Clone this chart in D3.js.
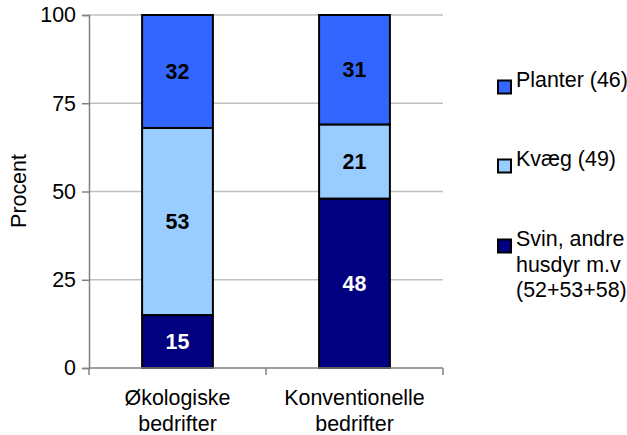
<!DOCTYPE html>
<html><head><meta charset="utf-8">
<script src="https://cdn.jsdelivr.net/npm/d3@7"></script>
<style>body{margin:0;background:#fff;}svg{display:block;font-family:"Liberation Sans",Arial,sans-serif;}</style>
</head><body>
<svg id="c" width="627" height="435"></svg>
<script>
const categories = [["Økologiske","bedrifter"],["Konventionelle","bedrifter"]];
const catKeys = ["oko","konv"];
const svin = [15, 48];
const kvaeg = [53, 21];
const planter = [32, 31];
const seriesNames = [["Svin, andre","husdyr m.v","(52+53+58)"],["Kvæg (49)"],["Planter (46)"]];
const seriesColors = ["#000080","#99CCFF","#3366FF"];
const labelColors = ["#ffffff","#000000","#000000"];
const yTicks = [0,25,50,75,100];

const svg = d3.select("#c");
// calibrate font size so that "Økologiske" is ~106px wide, as in the reference
const probe = svg.append("text").attr("font-size",20).text("Økologiske");
const pw = probe.node().getComputedTextLength();
probe.remove();
let FS = 20 * 106 / (pw || 106);
FS = Math.max(18, Math.min(24, FS));

const L=89,R=443,T=15,B=368;
const x = d3.scaleBand().domain(catKeys).range([L,R]).padding(0);
const y = d3.scaleLinear().domain([0,100]).range([B,T]);

// gridlines
svg.append("g").selectAll("line").data(yTicks.filter(d=>d>0)).join("line")
  .attr("x1",L).attr("x2",R).attr("y1",d=>y(d)).attr("y2",d=>y(d))
  .attr("stroke","#c0c0c0").attr("stroke-width",1.5);

const rows = catKeys.map((k,i)=>({key:k, s0:svin[i], s1:kvaeg[i], s2:planter[i]}));
const stack = d3.stack().keys(["s0","s1","s2"])(rows);
const bw = x.bandwidth()*0.4;
stack.forEach((layer,li)=>{
  const g = svg.append("g");
  g.selectAll("rect").data(layer).join("rect")
    .attr("x",d=>x(d.data.key)+x.bandwidth()/2-bw/2)
    .attr("width",bw)
    .attr("y",d=>y(d[1]))
    .attr("height",d=>y(d[0])-y(d[1]))
    .attr("fill",seriesColors[li]).attr("stroke","#000").attr("stroke-width",2);
  g.selectAll("text").data(layer).join("text")
    .attr("x",d=>x(d.data.key)+x.bandwidth()/2)
    .attr("y",d=>(y(d[0])+y(d[1]))/2)
    .attr("dy","0.36em").attr("text-anchor","middle")
    .attr("font-weight","bold").attr("font-size",FS)
    .attr("fill",labelColors[li])
    .text(d=>d[1]-d[0]);
});

// y axis
const ya = svg.append("g").attr("transform",`translate(${L},0)`)
  .call(d3.axisLeft(y).tickValues(yTicks).tickSize(7).tickPadding(6));
ya.select(".domain").attr("stroke","#808080").attr("stroke-width",1.5);
ya.selectAll(".tick line").attr("stroke","#808080").attr("stroke-width",1.5);
ya.selectAll(".tick text").attr("font-size",FS).attr("fill","#000").attr("font-family","'Liberation Sans', Arial, sans-serif");

// x axis
const xa = svg.append("g").attr("transform",`translate(0,${B})`)
  .call(d3.axisBottom(x).tickSize(0).tickFormat(""));
xa.select(".domain").attr("stroke","#808080").attr("stroke-width",1.5).attr("d",`M${L},0H${R}`);
svg.append("g").selectAll("line").data([L, x(catKeys[1]), R]).join("line")
  .attr("x1",d=>d).attr("x2",d=>d).attr("y1",B).attr("y2",B+7)
  .attr("stroke","#808080").attr("stroke-width",1.5);
svg.append("g").selectAll("text").data(catKeys).join("text")
  .attr("x",d=>x(d)+x.bandwidth()/2).attr("y",405)
  .attr("text-anchor","middle").attr("font-size",FS)
  .each(function(d,i){
    const t=d3.select(this);
    categories[i].forEach((line,j)=>t.append("tspan").attr("x",x(d)+x.bandwidth()/2).attr("dy",j?26:0).text(line));
  });

// y title
svg.append("text").attr("transform","translate(26,191) rotate(-90)")
  .attr("text-anchor","middle").attr("font-size",FS).text("Procent");

// legend
const legY = [87,166,246];
const order = [2,1,0];
order.forEach((si,i)=>{
  const cy = legY[i];
  svg.append("rect").attr("x",498).attr("y",cy-6.5).attr("width",13).attr("height",13)
    .attr("fill",seriesColors[si]).attr("stroke","#000").attr("stroke-width",2);
  const t = svg.append("text").attr("x",516).attr("y",cy).attr("dy","0.36em").attr("font-size",FS);
  seriesNames[si].forEach((line,j)=>t.append("tspan").attr("x",516).attr("dy",j?25.5:0).text(line));
});
</script>
</body></html>
